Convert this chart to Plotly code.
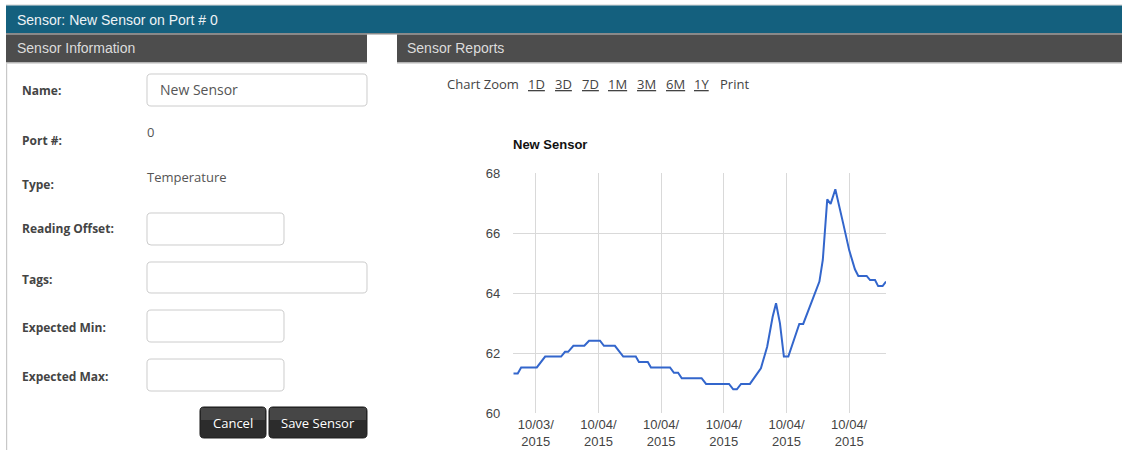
import plotly.graph_objects as go

W, H = 1122, 450

# ---------------- data ----------------
times = [
    "2015-10-03 18:34", "2015-10-03 18:51", "2015-10-03 19:04", "2015-10-03 20:04",
    "2015-10-03 20:36", "2015-10-03 21:37", "2015-10-03 21:52", "2015-10-03 22:04",
    "2015-10-03 22:24", "2015-10-03 23:06", "2015-10-03 23:24", "2015-10-04 00:06",
    "2015-10-04 00:21", "2015-10-04 01:03", "2015-10-04 01:35", "2015-10-04 02:23",
    "2015-10-04 02:35", "2015-10-04 03:09", "2015-10-04 03:21", "2015-10-04 04:34",
    "2015-10-04 04:49", "2015-10-04 05:05", "2015-10-04 05:19", "2015-10-04 06:35",
    "2015-10-04 06:52", "2015-10-04 08:20", "2015-10-04 08:36", "2015-10-04 08:50",
    "2015-10-04 09:06", "2015-10-04 09:40", "2015-10-04 10:22", "2015-10-04 10:46",
    "2015-10-04 11:07", "2015-10-04 11:20", "2015-10-04 11:35", "2015-10-04 11:50",
    "2015-10-04 12:07", "2015-10-04 12:49", "2015-10-04 13:04", "2015-10-04 14:06",
    "2015-10-04 14:19", "2015-10-04 14:36", "2015-10-04 14:49", "2015-10-04 15:07",
    "2015-10-04 15:37", "2015-10-04 16:00", "2015-10-04 16:22", "2015-10-04 16:35",
    "2015-10-04 17:07", "2015-10-04 17:20", "2015-10-04 17:39", "2015-10-04 17:51",
    "2015-10-04 18:08", "2015-10-04 18:21",
]
temps = [
    61.32, 61.32, 61.52, 61.52,
    61.88, 61.88, 62.04, 62.04,
    62.24, 62.24, 62.41, 62.41,
    62.24, 62.24, 61.88, 61.88,
    61.70, 61.70, 61.52, 61.52,
    61.34, 61.34, 61.16, 61.16,
    60.97, 60.97, 60.79, 60.79,
    60.97, 60.97, 61.49, 62.21,
    63.21, 63.66, 62.99, 61.88,
    61.88, 62.97, 62.97, 64.38,
    65.10, 67.12, 66.97, 67.46,
    66.32, 65.43, 64.79, 64.57,
    64.57, 64.43, 64.43, 64.23,
    64.23, 64.38,
]
x_tick_vals = ["2015-10-03 20:00", "2015-10-04 00:00", "2015-10-04 04:00",
               "2015-10-04 08:00", "2015-10-04 12:00", "2015-10-04 16:00"]
x_tick_text = ["10/03/<br>2015", "10/04/<br>2015", "10/04/<br>2015",
               "10/04/<br>2015", "10/04/<br>2015", "10/04/<br>2015"]
y_tick_vals = [60, 62, 64, 66, 68]
x_range = ["2015-10-03 18:34", "2015-10-04 18:21"]
y_range = [60, 68]

chart_title = "New Sensor"
page_title = "Sensor: New Sensor on Port # 0"
form_labels = ["Name:", "Port #:", "Type:", "Reading Offset:", "Tags:", "Expected Min:", "Expected Max:"]
zoom_links = ["1D", "3D", "7D", "1M", "3M", "6M", "1Y"]

# ---------------- helpers ----------------
def px(x):
    return x / W


def py(y):
    return 1 - y / H


def rect(x0, y0, x1, y1, fill, line=None, lw=0):
    return dict(type="rect", xref="paper", yref="paper",
                x0=px(x0), x1=px(x1), y0=py(y1), y1=py(y0),
                fillcolor=fill, line=dict(color=line or fill, width=lw), layer="below")


def rrect(x0, y0, x1, y1, r, fill, line, lw=1, layer="below"):
    def p(x, y):
        return f"{px(x):.6f},{py(y):.6f}"
    d = (f"M {p(x0 + r, y0)} L {p(x1 - r, y0)} Q {p(x1, y0)} {p(x1, y0 + r)} "
         f"L {p(x1, y1 - r)} Q {p(x1, y1)} {p(x1 - r, y1)} "
         f"L {p(x0 + r, y1)} Q {p(x0, y1)} {p(x0, y1 - r)} "
         f"L {p(x0, y0 + r)} Q {p(x0, y0)} {p(x0 + r, y0)} Z")
    return dict(type="path", xref="paper", yref="paper", path=d,
                fillcolor=fill, line=dict(color=line, width=lw), layer=layer)


def text(t, x, y, size=13, color="#444", family="Open Sans", xanchor="left", under=False, weight="normal"):
    f = dict(size=size, color=color, family=family, weight=weight)
    if under:
        f["lineposition"] = "under"
    if xanchor == "left":
        x -= 2  # compensate annotation padding
    return dict(text=t, x=px(x), y=py(y), xref="paper", yref="paper",
                xanchor=xanchor, yanchor="middle", showarrow=False, font=f)


shapes = []
ann = []

# header bars
shapes.append(rect(6, 4.5, W, 5.5, "#d0d0d0"))
shapes.append(rect(6, 5.5, W, 33, "#14607e"))
shapes.append(rect(6, 33, W, 34.5, "#8a8a8a"))
shapes.append(rect(6, 34.5, 367, 62, "#4d4d4d"))
shapes.append(rect(397, 34.5, W, 62, "#4d4d4d"))
shapes.append(rect(6, 62, 367, 63.5, "#b5b5b5"))
shapes.append(rect(397, 62, W, 63.5, "#b5b5b5"))
shapes.append(rect(6, 63.5, 7.2, H, "#c8c8c8"))

ann.append(text(page_title, 17, 20, 14, "#eef3f6", "Arial"))
ann.append(text("Sensor Information", 17, 48, 14, "#dcdcdc", "Arial"))
ann.append(text("Sensor Reports", 407, 48, 14, "#dcdcdc", "Arial"))

# form
label_y = [91, 140, 184, 229, 279, 327, 376]
for lab, yy in zip(form_labels, label_y):
    ann.append(text(lab, 22, yy, 12, "#444", "Open Sans", weight="bold"))

inputs = [(147, 74, 367, 106), (147, 213, 284, 245), (147, 262, 367, 293),
          (147, 310, 284, 342), (147, 359, 284, 391)]
for (x0, y0, x1, y1) in inputs:
    shapes.append(rrect(x0, y0, x1, y1, 4, "#ffffff", "#cccccc", 1))
ann.append(text("New Sensor", 160, 90, 14, "#555", "Open Sans"))
ann.append(text("0", 147, 132, 13, "#555", "Open Sans"))
ann.append(text("Temperature", 147, 177, 13, "#555", "Open Sans"))

# buttons
shapes.append(rrect(200, 407, 266, 438, 4, "#2c2c2c", "#1e1e1e", 1))
shapes.append(rrect(269, 407, 367, 438, 4, "#2c2c2c", "#1e1e1e", 1))
shapes.append(rect(201, 408, 265, 420, "#464646"))
shapes.append(rect(270, 408, 366, 420, "#464646"))
ann.append(text("Cancel", 233, 423, 13, "#ffffff", "Open Sans", xanchor="center"))
ann.append(text("Save Sensor", 318, 423, 13, "#ffffff", "Open Sans", xanchor="center"))

# chart zoom row
ann.append(text("Chart Zoom", 447, 84, 13, "#444", "Open Sans"))
zoom_x = [528, 555, 582, 608, 637, 666, 694]
for lab, xx in zip(zoom_links, zoom_x):
    ann.append(text(lab, xx, 84, 13, "#444", "Open Sans", under=True))
ann.append(text("Print", 720, 84, 13, "#444", "Open Sans"))

# chart title
ann.append(text(chart_title, 513, 145, 13, "#111", "Arial", weight="bold"))

# ---------------- figure ----------------
fig = go.Figure()
fig.add_trace(go.Scatter(x=times, y=temps, mode="lines",
                         line=dict(color="#3366cc", width=2), hoverinfo="skip",
                         showlegend=False))

fig.update_layout(
    width=W, height=H,
    margin=dict(l=0, r=0, t=0, b=0, autoexpand=False),
    paper_bgcolor="#ffffff", plot_bgcolor="#ffffff",
    shapes=shapes, annotations=ann,
    xaxis=dict(domain=[px(513.3), px(886)], type="date", range=x_range,
               tickmode="array", tickvals=x_tick_vals, ticktext=x_tick_text,
               showgrid=True, gridcolor="#d9d9d9", gridwidth=1, automargin=False,
               showline=False, zeroline=False, ticks="", ticklabelstandoff=2,
               tickfont=dict(family="Arial", size=13, color="#444"), fixedrange=True),
    yaxis=dict(domain=[py(413), py(173)], range=y_range,
               tickmode="array", tickvals=y_tick_vals, automargin=False,
               showgrid=True, gridcolor="#d9d9d9", gridwidth=1,
               showline=False, zeroline=False, ticks="", ticklabelstandoff=12,
               tickfont=dict(family="Arial", size=13, color="#444"), fixedrange=True),
)

fig.write_html(
    "out.html",
    config={"displayModeBar": False},
    post_script="document.documentElement.style.margin='0';document.body.style.margin='0';"
                "document.body.style.overflow='hidden';",
)
